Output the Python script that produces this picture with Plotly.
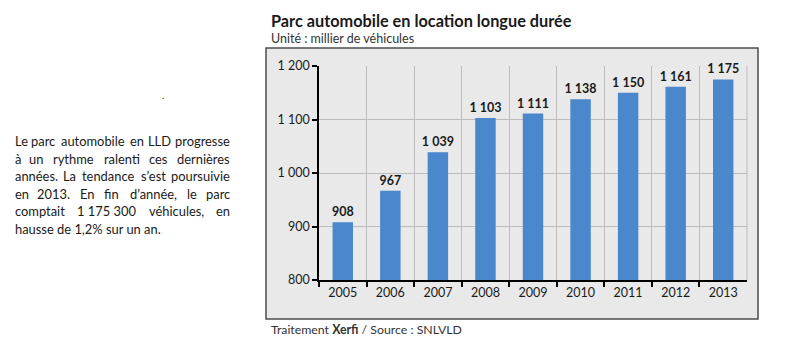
import plotly.graph_objects as go

years = ["2005", "2006", "2007", "2008", "2009", "2010", "2011", "2012", "2013"]
values = [908, 967, 1039, 1103, 1111, 1138, 1150, 1161, 1175]
labels = ["908", "967", "1 039", "1 103", "1 111", "1 138", "1 150", "1 161", "1 175"]
y_ticks = [800, 900, 1000, 1100, 1200]
y_ticklabels = ["800", "900", "1 000", "1 100", "1 200"]

title = "Parc automobile en location longue durée"
subtitle = "Unité : millier de véhicules"
source = "Traitement <b>Xerfi</b> / Source : SNLVLD"
side_lines = [
    ["Le", "parc", "automobile", "en", "LLD", "progresse"],
    ["à", "un", "rythme", "ralenti", "ces", "dernières"],
    ["années.", "La", "tendance", "s’est", "poursuivie"],
    ["en", "2013.", "En", "fin", "d’année,", "le", "parc"],
    ["comptait", "1 175 300", "véhicules,", "en"],
]
last_line = "hausse de 1,2% sur un an."

W, H = 800, 353
FONT = "Lato"
SIDE_SIZE = 12.9

# approximate Lato advance widths (per 1000 em), used only to lay out justified text
LATO_W = {
    "a": 508, "b": 563, "c": 455, "d": 563, "e": 523, "f": 326, "g": 505, "h": 563,
    "i": 243, "j": 243, "k": 500, "l": 243, "m": 842, "n": 563, "o": 561, "p": 563,
    "q": 563, "r": 363, "s": 428, "t": 343, "u": 563, "v": 497, "w": 764, "x": 483,
    "y": 497, "z": 443, "L": 505, "D": 729, "E": 558, " ": 193, ".": 220, ",": 220,
    "’": 230, "%": 800,
}
ACCENTS = {"à": "a", "é": "e", "è": "e"}

def text_width(s, size):
    tot = 0
    for ch in s:
        ch = ACCENTS.get(ch, ch)
        if ch.isdigit():
            tot += 580
        else:
            tot += LATO_W.get(ch, 560)
    return 1.04 * tot * size / 1000

def px(x):
    return x / W

def py(y):
    return 1 - y / H

fig = go.Figure()
fig.add_trace(go.Bar(
    x=years, y=values, text=labels, textposition="outside",
    constraintext="none",
    textfont=dict(family=FONT, size=12.5, color="#1a1a1a", weight="bold"),
    marker=dict(color="#4a87cc", line=dict(width=0)),
    width=0.43, cliponaxis=False,
))

shapes = [
    dict(type="rect", xref="paper", yref="paper", x0=px(266), x1=px(758), y0=py(319), y1=py(48),
         fillcolor="#e9e9e9", line=dict(color="#4d4d4d", width=1.5), layer="below"),
]

def ann(text, x, y, size, anchor="left", color="#1a1a1a"):
    return dict(text=text, x=px(x), y=py(y), xref="paper", yref="paper",
                xanchor=anchor, yanchor="middle", showarrow=False,
                font=dict(family=FONT, size=size, color=color))

annotations = [
    ann("<b>" + title + "</b>", 269, 20, 16.3),
    ann(subtitle, 269, 39, 12.5, color="#333333"),
    ann(source, 269, 329, 12.3, color="#333333"),
    ann(".", 163, 95, 10, anchor="center", color="#333333"),
]

# justified paragraph: words spread between left and right margins
LEFT, RIGHT = 13, 232
for i, words in enumerate(side_lines):
    y = 141 + 17.5 * i
    lens = [text_width(w, SIDE_SIZE) for w in words]
    gap = (RIGHT - LEFT - sum(lens)) / (len(words) - 1)
    x = LEFT
    for j, (w, L) in enumerate(zip(words, lens)):
        if j == 0:
            annotations.append(ann(w, LEFT, y, SIDE_SIZE))
        elif j == len(words) - 1:
            annotations.append(ann(w, RIGHT, y, SIDE_SIZE, anchor="right"))
        else:
            annotations.append(ann(w, x + L / 2, y, SIDE_SIZE, anchor="center"))
        x += L + gap
annotations.append(ann(last_line, LEFT, 141 + 17.5 * 5, SIDE_SIZE))

fig.update_layout(
    width=W, height=H,
    margin=dict(l=0, r=0, t=0, b=0, autoexpand=False),
    paper_bgcolor="white",
    plot_bgcolor="#ebebeb",
    showlegend=False,
    shapes=shapes,
    annotations=annotations,
    xaxis=dict(
        domain=[px(319), px(747)],
        type="category",
        tickson="boundaries",
        ticks="outside", ticklen=5, tickcolor="#000", tickwidth=1.5,
        showline=True, linecolor="#000", linewidth=1.5,
        showgrid=True, gridcolor="#bcbcbc", gridwidth=1,
        tickfont=dict(family=FONT, size=12.5, color="#1a1a1a"),
        automargin=False,
    ),
    yaxis=dict(
        domain=[py(280), py(66)],
        range=[800, 1200],
        tickvals=y_ticks, ticktext=y_ticklabels,
        ticks="outside", ticklen=5, tickcolor="#000", tickwidth=1.5,
        showline=True, linecolor="#000", linewidth=1.5,
        showgrid=True, gridcolor="#bcbcbc", gridwidth=1,
        tickfont=dict(family=FONT, size=12.5, color="#1a1a1a"),
        zeroline=False,
        automargin=False,
    ),
)
fig.add_shape(type="line", xref="paper", yref="paper", x0=px(747), x1=px(747), y0=py(280), y1=py(66),
              line=dict(color="#bcbcbc", width=1))

fig.write_html("out.html")
